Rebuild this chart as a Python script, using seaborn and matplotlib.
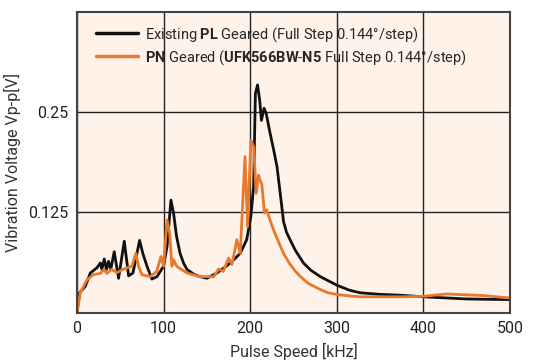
import numpy as np
import pandas as pd
import matplotlib
matplotlib.use("Agg")
import matplotlib.pyplot as plt
import seaborn as sns

# existing PL geared motor
pl_speed = [0, 3, 9.6, 15.4, 23, 27, 28.8, 31.5, 34, 36.5, 39, 43, 48, 54.6, 59.6, 64.6,
            72.3, 76, 80.8, 86.5, 92.3, 100, 104, 108.5, 111.5, 115, 119, 123, 127, 135, 142,
            150, 161.5, 170, 177, 183, 188.5, 196, 200.8, 204, 206, 208.5, 211, 213, 216,
            218.5, 223, 227, 231, 236.5, 238.5, 242, 246, 252, 261.5, 270, 281, 290, 301,
            315, 327, 350, 373, 400, 450, 499]
pl_volt = [0, 0.025, 0.033, 0.0495, 0.056, 0.062, 0.054, 0.067, 0.054, 0.064, 0.054, 0.076,
           0.043, 0.089, 0.046, 0.0495, 0.090, 0.074, 0.058, 0.042, 0.045, 0.058, 0.0825,
           0.140, 0.124, 0.095, 0.074, 0.062, 0.054, 0.048, 0.045, 0.043, 0.0495, 0.056,
           0.062, 0.068, 0.074, 0.091, 0.120, 0.157, 0.272, 0.283, 0.264, 0.239, 0.254,
           0.2475, 0.223, 0.203, 0.1815, 0.132, 0.1135, 0.100, 0.091, 0.078, 0.062, 0.053,
           0.045, 0.040, 0.034, 0.028, 0.025, 0.023, 0.022, 0.020, 0.0173, 0.0165]

# PN geared motor
pn_speed = [0, 3.8, 11.5, 19, 27, 31, 34.6, 40, 46, 54, 63.5, 68, 71, 75, 84.6, 92, 97, 100,
            104, 107, 109.6, 111.5, 115, 127, 142, 158, 163.5, 169, 175, 179, 184.6, 188.5,
            194, 197, 200.8, 204, 207, 209.6, 213.5, 216.5, 219, 223, 227, 232, 238.5, 245,
            252, 258, 268, 281, 290, 301, 315, 327, 373, 400, 427, 469, 499]
pn_volt = [0, 0.025, 0.041, 0.0475, 0.049, 0.054, 0.049, 0.054, 0.050, 0.0545, 0.058, 0.074,
           0.058, 0.0475, 0.045, 0.0515, 0.070, 0.058, 0.1155, 0.099, 0.058, 0.066, 0.058,
           0.0495, 0.045, 0.045, 0.0545, 0.0515, 0.068, 0.060, 0.091, 0.074, 0.194, 0.107,
           0.2145, 0.206, 0.1485, 0.171, 0.159, 0.124, 0.128, 0.115, 0.103, 0.090, 0.074,
           0.062, 0.052, 0.045, 0.036, 0.029, 0.025, 0.0227, 0.021, 0.020, 0.020, 0.0206,
           0.0235, 0.0215, 0.0186]

x_ticks = [0, 100, 200, 300, 400, 500]
y_ticks = [0.125, 0.25]

label_pl = r"Existing $\mathbf{PL}$ Geared (Full Step 0.144°/step)"
label_pn = r"$\mathbf{PN}$ Geared ($\mathbf{UFK566BW}$-$\mathbf{N5}$ Full Step 0.144°/step)"

df = pd.concat([
    pd.DataFrame({"speed": pl_speed, "volt": pl_volt, "motor": label_pl}),
    pd.DataFrame({"speed": pn_speed, "volt": pn_volt, "motor": label_pn}),
])

sns.set_style("white")
plt.rcParams["font.family"] = ["Roboto", "DejaVu Sans"]
plt.rcParams["mathtext.fontset"] = "custom"
plt.rcParams["mathtext.bf"] = "Roboto:bold"
plt.rcParams["mathtext.rm"] = "Roboto"

fig = plt.figure(figsize=(5.46, 3.63), dpi=100)
ax = fig.add_axes([0.141, 0.138, 0.793, 0.830])
ax.set_facecolor("#fff2e8")

sns.lineplot(data=df, x="speed", y="volt", hue="motor", sort=False,
             palette=["#111111", "#e8792c"], linewidth=2.0, ax=ax)

ax.set_xlim(0, 500)
ax.set_ylim(0, 0.374)
ax.set_xticks(x_ticks)
ax.set_yticks(y_ticks)
ax.set_yticklabels(["0.125", "0.25"])
ax.grid(True, color="#222222", linewidth=1.0)
ax.tick_params(length=0, labelsize=11.5, colors="#222222", pad=6)
for s in ax.spines.values():
    s.set_color("#444444")
    s.set_linewidth(1.5)

ax.set_xlabel("Pulse Speed [kHz]", fontsize=11.5, color="#333333", labelpad=5)
ax.set_ylabel("Vibration Voltage Vp-p[V]", fontsize=11.5, color="#333333", labelpad=5)

leg = ax.legend(loc="upper left", frameon=False, fontsize=10.5, handlelength=2.9,
                borderaxespad=0.3, labelspacing=0.3, handletextpad=0.5,
                bbox_to_anchor=(0.02, 0.99))
for line in leg.get_lines():
    line.set_linewidth(2.5)

fig.savefig("out.png", dpi=100, facecolor="white")
